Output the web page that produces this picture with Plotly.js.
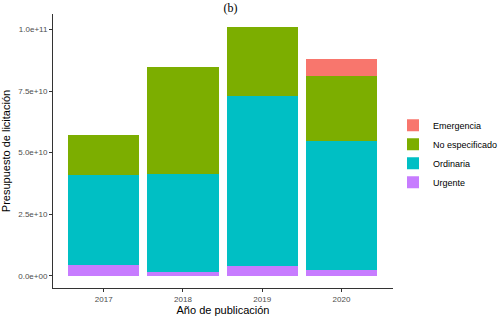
<!DOCTYPE html>
<html>
<head>
<meta charset="utf-8">
<script src="https://cdn.plot.ly/plotly-3.0.1.min.js"></script>
<style>html,body{margin:0;padding:0;background:#fff;}#chart{width:501px;height:320px;}</style>
</head>
<body>
<div id="chart"></div>
<script>
const years = ["2017", "2018", "2019", "2020"];
const urgente = [0.42e10, 0.14e10, 0.40e10, 0.25e10];
const ordinaria = [3.67e10, 4.00e10, 6.90e10, 5.23e10];
const noEspecificado = [1.63e10, 4.32e10, 2.81e10, 2.63e10];
const emergencia = [0, 0, 0, 0.70e10];
const yTickVals = [0, 2.5e10, 5.0e10, 7.5e10, 1.0e11];
const yTickText = ["0.0e+00", "2.5e+10", "5.0e+10", "7.5e+10", "1.0e+11"];

const mk = (name, vals, color) => ({
  type: "bar", name: name, x: years, y: vals,
  marker: {color: color, line: {width: 0}},
  width: 0.9, hoverinfo: "none"
});

const data = [
  mk("Urgente", urgente, "#C77CFF"),
  mk("Ordinaria", ordinaria, "#00BFC4"),
  mk("No especificado", noEspecificado, "#7CAE00"),
  mk("Emergencia", emergencia, "#F8766D")
];

const layout = {
  width: 501, height: 320,
  margin: {l: 53, r: 108, t: 14, b: 32, pad: 0, autoexpand: false},
  paper_bgcolor: "#fff", plot_bgcolor: "#fff",
  barmode: "stack",
  font: {family: "Liberation Sans, Arial, sans-serif", size: 11, color: "#000"},
  title: {text: "(b)", font: {family: "Liberation Serif, Times New Roman, serif", size: 12, color: "#000"},
          x: 0.46, xanchor: "center", y: 0.988, yanchor: "top", yref: "container", pad: {t: 0, b: 0}},
  xaxis: {
    type: "category", range: [-0.64, 3.65],
    showgrid: false, zeroline: false,
    showline: true, linecolor: "#333", linewidth: 1,
    ticks: "outside", ticklen: 3, tickcolor: "#333",
    tickfont: {size: 8, color: "#4d4d4d"},
    title: {text: "Año de publicación", font: {size: 11, color: "#000"}, standoff: 2}
  },
  yaxis: {
    range: [-0.5e10, 10.63e10],
    tickvals: yTickVals, ticktext: yTickText,
    showgrid: false, zeroline: false,
    showline: true, linecolor: "#333", linewidth: 1,
    ticks: "outside", ticklen: 3, tickcolor: "#333",
    tickfont: {size: 8, color: "#4d4d4d"},
    title: {text: "Presupuesto de licitación", font: {size: 11, color: "#000"}, standoff: 6}
  },
  showlegend: true,
  legend: {
    x: 1.0, xanchor: "left", y: 0.49, yanchor: "middle",
    traceorder: "reversed",
    font: {size: 9, color: "#000"},
    bgcolor: "rgba(0,0,0,0)"
  }
};

Plotly.newPlot("chart", data, layout, {displayModeBar: false, staticPlot: true});
</script>
</body>
</html>
